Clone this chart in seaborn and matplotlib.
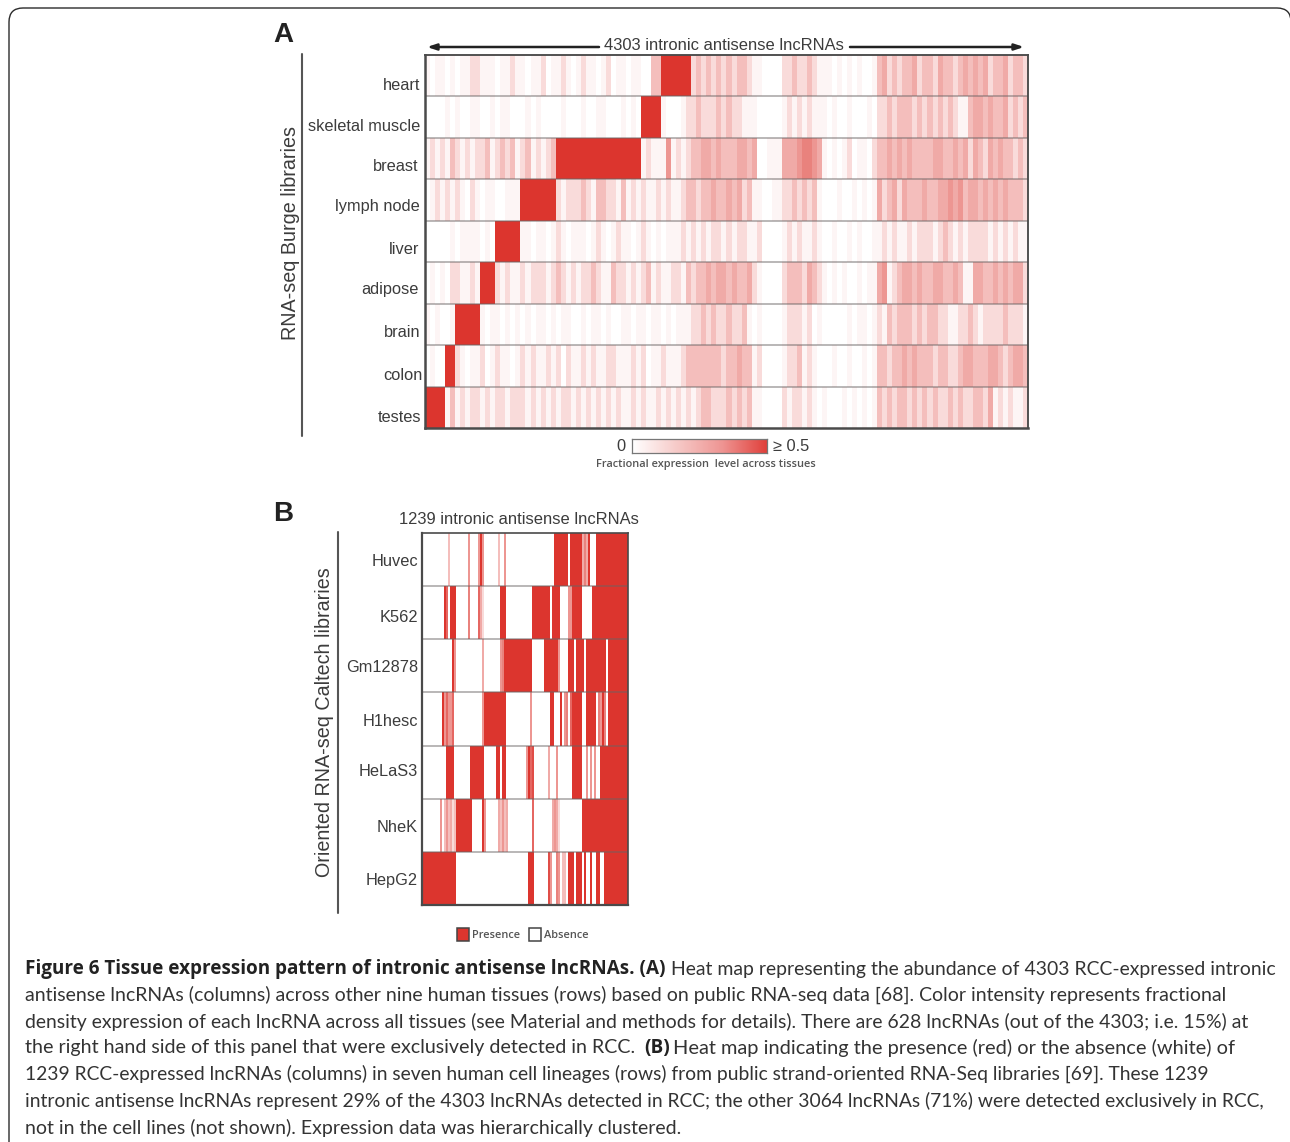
import numpy as np
import pandas as pd
import seaborn as sns
import matplotlib
matplotlib.use("Agg")
import matplotlib.pyplot as plt
from matplotlib.colors import LinearSegmentedColormap
from matplotlib.patches import FancyBboxPatch, Rectangle
from matplotlib.transforms import IdentityTransform

# ---------- data: fractional expression levels (0 = none, 9 = >=0.5) ----------
tissues = ["heart", "skeletal muscle", "breast", "lymph node", "liver", "adipose", "brain", "colon", "testes"]
heart = "1011010112 2111011211 0112011210 1211012011 0110033999 9992323232 3233211000 0223223211 1010101001 3423233423 3243323434 3423342332"
skeletal = "0000101001 1001011000 1010000100 0100110001 0109999100 0122322232 3221110000 0121212111 0100100010 2232333232 3232321134 4343342323"
breast = "1212132121 2231232312 3121239999 9999999999 9991211151 2123344343 3344340011 1444566541 0101201102 3343434333 3443343424 3243433232"
lymph = "0121212102 1011001119 9999992122 2321332213 1212112121 1233233433 4342311001 1223232310 0010010101 4234243334 3344545344 3434343332"
liver = "0000010111 1010999991 1011012101 1101210121 1012101011 1212121221 2122112000 0121211210 0100101001 1212112122 2123212122 2212121211"
adipose = "0101022112 1999212112 1222123212 1223211322 1212312112 2132334344 3433421000 0233324321 0101001011 4512344343 3443343114 4334343442"
brain = "1010019999 9101101010 1011010110 0101101001 1011011010 1112232322 3223101000 0122212010 0000101101 2132333232 3322112232 1222232221"
colon = "0100992101 1201211012 1211212021 1212112211 1212011211 1233333332 3343312000 0122312100 0100100101 3323343433 3233223443 3344323443"
testes = "9999131212 2121221222 1212121221 2121212121 1212112121 2121233222 3232311000 0212212101 0001010101 3232332323 2322323223 3241212112"
rows_a = [heart, skeletal, breast, lymph, liver, adipose, brain, colon, testes]

cell_lines = ["Huvec", "K562", "Gm12878", "H1hesc", "HeLaS3", "NheK", "HepG2"]
huvec = "0000000000 0003000000 0005000059 5000000030 0500000000 0000000000 0000009999 9990999999 4649000999 9999999999 999"
k562 = "0000000000 0970999000 0006000074 2000000009 9900000000 0000099999 9999099990 0005599999 0000099999 9999999999 999"
gm12878 = "0000000000 0000095000 0000000000 4000000005 6999999999 9999900000 0999999950 0009990999 9099999999 9909999999 999"
h1hesc = "0000000000 9575570000 0000000000 5999999999 9900000000 0000500000 0000990009 0560799999 0099999065 9609999999 999"
helas3 = "0000000000 0099990000 0000999999 9000000990 9900000000 0059780000 0004000500 0000099999 0050505009 9999999999 999"
nhek = "0000000005 0353423999 9999900000 9500000043 5340000000 0000070000 0000045420 0000000000 9999999999 9999999999 999"
hepg2 = "9999999999 9999999000 0000000000 0000000000 0000000000 0009990000 0008500650 3309990999 0900900990 0999999999 999"
rows_b = [huvec, k562, gm12878, h1hesc, helas3, nhek, hepg2]

caption_lines = [
    "antisense lncRNAs (columns) across other nine human tissues (rows) based on public RNA-seq data [68]. Color intensity represents fractional",
    "density expression of each lncRNA across all tissues (see Material and methods for details). There are 628 lncRNAs (out of the 4303; i.e. 15%) at",
    "the right hand side of this panel that were exclusively detected in RCC.",
    "1239 RCC-expressed lncRNAs (columns) in seven human cell lineages (rows) from public strand-oriented RNA-Seq libraries [69]. These 1239",
    "intronic antisense lncRNAs represent 29% of the 4303 lncRNAs detected in RCC; the other 3064 lncRNAs (71%) were detected exclusively in RCC,",
    "not in the cell lines (not shown). Expression data was hierarchically clustered.",
]
caption_sizes = [14.05, 13.93, 14.18, 13.9, 13.85, 14.06]


def to_frame(rows, names):
    return pd.DataFrame([[int(c) for c in r.replace(" ", "")] for r in rows], index=names)


W, H = 1290, 1142
RED = "#DC352E"
TXT = "#3c3c3c"
SANS = "Liberation Sans"
shade = [0, 0.05, 0.18, 0.32, 0.42, 0.52, 0.62, 0.75, 0.88, 1]
white, red = np.array([1, 1, 1]), np.array(matplotlib.colors.to_rgb(RED))
cmap = LinearSegmentedColormap.from_list(
    "wr", [(i / 9, tuple(white + (red - white) * t)) for i, t in enumerate(shade)])
key_cmap = LinearSegmentedColormap.from_list("key", ["#FFFFFF", "#F6C9C7", "#EE9593", "#E0403B"])

sns.set_theme(style="white")
plt.rcParams["font.family"] = [SANS, "DejaVu Sans"]
fig = plt.figure(figsize=(W / 100, H / 100), dpi=100)


def box(x0, y0, x1, y1):
    return [x0 / W, 1 - y1 / H, (x1 - x0) / W, (y1 - y0) / H]


def fx(x):
    return x / W


def fy(y):
    return 1 - y / H


def label(x, y, s, **kw):
    kw.setdefault("color", TXT)
    kw.setdefault("va", "center")
    kw.setdefault("fontsize", 11.8)
    fig.text(fx(x), fy(y), s, **kw)


def vline(x, y0, y1, color="#555555", lw=1.5):
    fig.add_artist(plt.Line2D([fx(x), fx(x)], [fy(y0), fy(y1)], color=color, lw=lw))


def heat(frame, rect, label_xs, label_ys, left_lw):
    ax = fig.add_axes(box(*rect))
    sns.heatmap(frame, ax=ax, cmap=cmap, vmin=0, vmax=9, cbar=False,
                xticklabels=False, yticklabels=False)
    ax.hlines(range(1, len(frame)), 0, frame.shape[1], color="#6a6464", alpha=0.55, lw=1.2)
    for name, spine in ax.spines.items():
        spine.set_visible(True)
        spine.set_color("#4a4a4a")
        spine.set_linewidth(left_lw if name in ("left", "bottom") else left_lw * 0.75)
    for name, lx, ly in zip(frame.index, label_xs, label_ys):
        label(lx, ly, name, ha="right")
    return ax


# outer rounded frame, in output pixels
fig.add_artist(FancyBboxPatch((9 + 14, H - 1200), 1282 - 28, 1192 - 14,
                              boxstyle="round,pad=14,rounding_size=14", transform=IdentityTransform(),
                              fc="none", ec="#2b2b2b", lw=1.0))

# ---------- panel A ----------
heat(to_frame(rows_a, tissues), (425, 55, 1028, 428),
     [420, 420, 418, 420, 419, 419, 421, 423, 421],
     [85.5, 126.5, 166.5, 206.5, 249.5, 289.5, 332.5, 375.5, 417.5], 1.8)
label(273, 35, "A", fontsize=20, fontweight="bold", color="#222222")
label(724, 45, "4303 intronic antisense lncRNAs", ha="center", fontsize=11.9)
for x0, x1 in ((599, 427), (850, 1024)):
    fig.add_artist(plt.Annotation("", xy=(fx(x1), fy(47)), xytext=(fx(x0), fy(47)),
                                  xycoords="figure fraction", textcoords="figure fraction",
                                  arrowprops=dict(arrowstyle="-|>,head_length=0.45,head_width=0.15",
                                                  color="#222222", lw=1.8, shrinkA=0, shrinkB=0)))
vline(302, 54, 436)
label(290, 233, "RNA-seq Burge libraries", rotation=90, ha="center", fontsize=14.2)

# colour key
cax = fig.add_axes(box(632, 439, 767, 453))
sns.heatmap(pd.DataFrame([np.linspace(0, 1, 135)]), ax=cax, cmap=key_cmap, vmin=0, vmax=1, cbar=False,
            xticklabels=False, yticklabels=False)
for spine in cax.spines.values():
    spine.set_visible(True)
    spine.set_color("#777777")
    spine.set_linewidth(0.9)
label(621, 446.5, "0", ha="center", fontsize=11.8)
label(773, 446.5, "\u2265 0.5", ha="left", fontsize=11.8)
label(596, 464, "Fractional expression  level across tissues", ha="left", fontsize=7.95,
      fontweight="semibold", family="Open Sans", color="#555555")

# ---------- panel B ----------
heat(to_frame(rows_b, cell_lines), (422, 533, 628, 905),
     [418, 418, 418, 418, 418, 418, 418],
     [561, 618, 668, 722, 772, 828, 880], 1.6)
label(273, 514, "B", fontsize=20, fontweight="bold", color="#222222")
label(518.5, 519, "1239 intronic antisense lncRNAs", ha="center", fontsize=11.85)
vline(338, 532, 913)
label(325, 722, "Oriented RNA-seq Caltech libraries", rotation=90, ha="center", fontsize=14.25)

for x0, fc, name, tx in ((457, RED, "Presence", 472), (529, "white", "Absence", 544)):
    fig.add_artist(Rectangle((fx(x0), fy(941)), 12 / W, 13 / H, transform=fig.transFigure,
                             fc=fc, ec="#444444", lw=1.1))
    label(tx, 935, name, ha="left", fontsize=7.9, fontweight="semibold",
          family="Open Sans", color="#555555")

# ---------- caption ----------
CAP = dict(family="Lato", color="#333333", va="center")
BOLD = dict(family="Open Sans", fontsize=13.62, fontweight="bold", color="#222222", va="center")
line_y = [995, 1022, 1048, 1074, 1101, 1128]
fig.text(fx(25), fy(969), "Figure 6 Tissue expression pattern of intronic antisense lncRNAs. (A)", **BOLD)
fig.text(fx(671), fy(969), "Heat map representing the abundance of 4303 RCC-expressed intronic", fontsize=13.93, **CAP)
for y, s, size in zip(line_y, caption_lines, caption_sizes):
    fig.text(fx(25), fy(y), s, fontsize=size, **CAP)
fig.text(fx(644), fy(1048), "(B)", **BOLD)
fig.text(fx(673), fy(1048), "Heat map indicating the presence (red) or the absence (white) of", fontsize=14.43, **CAP)

fig.savefig("out.png", dpi=100)
